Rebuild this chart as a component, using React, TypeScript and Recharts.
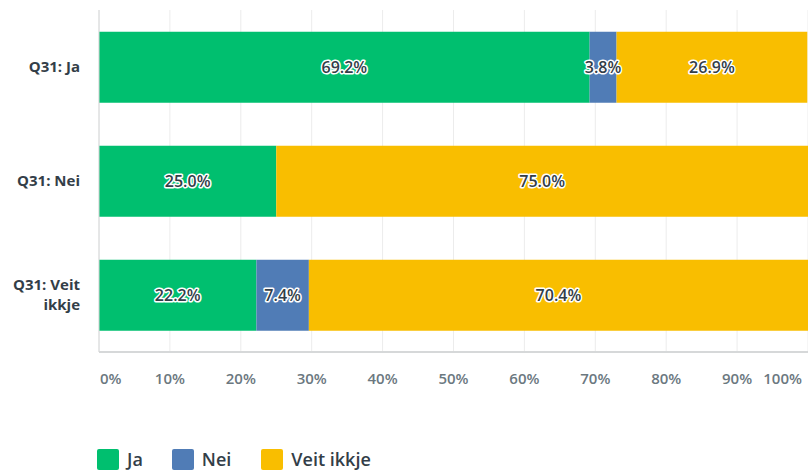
import React from "react";
import { BarChart, Bar, XAxis, YAxis, CartesianGrid, LabelList } from "recharts";

const categories = ["Q31: Ja", "Q31: Nei", "Q31: Veit ikkje"];
const jaValues = [69.2, 25.0, 22.2];
const neiValues = [3.8, 0, 7.4];
const veitValues = [26.9, 75.0, 70.4];
const xTicks = [0, 10, 20, 30, 40, 50, 60, 70, 80, 90, 100];

const series = [
  { key: "ja", name: "Ja", color: "#00bf6f", values: jaValues },
  { key: "nei", name: "Nei", color: "#507cb6", values: neiValues },
  { key: "veit", name: "Veit ikkje", color: "#f9be00", values: veitValues },
];

const data = categories.map((c, i) => {
  const row: any = { category: c };
  series.forEach((s) => (row[s.key] = s.values[i]));
  return row;
});

const FONT = "'Open Sans', Roboto, sans-serif";
const DARK = "#333e48";

const XTick = (props: any) => {
  const { x, y, payload } = props;
  const v = payload.value;
  let anchor: any = "middle";
  let dx = 0;
  if (v === 0) { anchor = "start"; dx = 1; }
  if (v === 100) { anchor = "end"; dx = -6; }
  return (
    <text x={x + dx} y={y} dy="0.71em" textAnchor={anchor} fill="#6b787f" fontSize={15} fontWeight={600} fontFamily={FONT}>
      {v}%
    </text>
  );
};

const YTick = (props: any) => {
  const { x, y, payload } = props;
  const label: string = payload.value;
  const lines = label === "Q31: Veit ikkje" ? ["Q31: Veit", "ikkje"] : [label];
  const lh = 20;
  const start = y - ((lines.length - 1) * lh) / 2;
  return (
    <text textAnchor="end" fill={DARK} fontSize={15} fontWeight={700} fontFamily={FONT}>
      {lines.map((l, i) => (
        <tspan key={i} x={x} y={start + i * lh} dy="0.35em">{l}</tspan>
      ))}
    </text>
  );
};

const BarLabel = (props: any) => {
  const { x, y, width, height, value } = props;
  if (!value) return null;
  return (
    <text
      x={x + width / 2}
      y={y + height / 2}
      dy="0.35em"
      textAnchor="middle"
      fill={DARK}
      stroke="#ffffff"
      strokeWidth={3}
      strokeLinejoin="round"
      paintOrder="stroke"
      fontSize={16}
      fontWeight={600}
      fontFamily={FONT}
    >
      {value.toFixed(1)}%
    </text>
  );
};

export default function App() {
  return (
    <div style={{ position: "absolute", left: 0, top: 0, width: 808, height: 472, background: "#fff" }}>
      <BarChart
        width={808}
        height={472}
        data={data}
        layout="vertical"
        margin={{ top: 10, right: 0, left: 0, bottom: 90 }}
        barCategoryGap="19%"
      >
        <CartesianGrid horizontal={false} stroke="#ececec" />
        <XAxis
          type="number"
          domain={[0, 100]}
          ticks={xTicks}
          tick={<XTick />}
          tickLine={false}
          axisLine={{ stroke: "#d6d8d9", strokeWidth: 2 }}
          tickMargin={15}
          height={30}
          interval={0}
        />
        <YAxis
          type="category"
          dataKey="category"
          width={99}
          tick={<YTick />}
          tickLine={false}
          axisLine={{ stroke: "#d6d8d9", strokeWidth: 1 }}
          tickMargin={13}
          interval={0}
        />
        {series.map((s) => (
          <Bar key={s.key} dataKey={s.key} name={s.name} stackId="a" fill={s.color} isAnimationActive={false}>
            <LabelList dataKey={s.key} content={<BarLabel />} />
          </Bar>
        ))}
      </BarChart>
      <div style={{ position: "absolute", left: 97, top: 449, display: "flex", alignItems: "center", fontFamily: FONT }}>
        {series.map((s, i) => (
          <div key={s.key} style={{ display: "flex", alignItems: "center", marginRight: i === 0 ? 29 : 30, height: 21 }}>
            <div style={{ width: 22, height: 21, borderRadius: 2, background: s.color, marginRight: 8 }} />
            <span style={{ fontSize: 18, fontWeight: 600, color: DARK, lineHeight: "21px" }}>{s.name}</span>
          </div>
        ))}
      </div>
    </div>
  );
}
